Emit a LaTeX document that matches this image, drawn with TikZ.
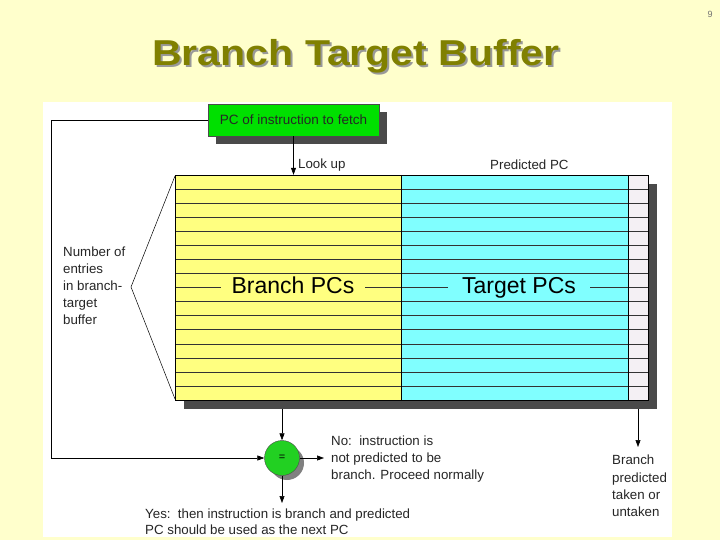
\documentclass[tikz,border=0pt]{standalone}
\usepackage{fontspec}
\setmainfont{Liberation Sans}
\usetikzlibrary{arrows.meta,shapes.geometric}
\definecolor{bgyellow}{HTML}{FFFFCC}
\definecolor{titleol}{HTML}{808000}
\definecolor{rowyel}{HTML}{FFFF80}
\definecolor{rowcyan}{HTML}{80FFFF}
\definecolor{rowwhite}{HTML}{F4F0F4}
\definecolor{boxgreen}{HTML}{00E000}
\definecolor{circgreen}{HTML}{22D022}
\definecolor{shadowgray}{HTML}{4A4A4A}
\newcommand{\ttltext}{\scalebox{1.14}[1]{Branch Target Buffer}}
\begin{document}
\begin{tikzpicture}[x=1pt,y=-1pt,
  lbl/.style={font=\fontsize{13.3}{16}\selectfont, text=black!85, inner sep=0pt},
  arr/.style={-{Triangle[width=5pt,length=7pt]}, line width=0.6pt},
  rowline/.style={line width=0.5pt, draw=black!80},
  collbl/.style={inner sep=0pt, minimum height=12pt, text height=16.5pt, text depth=4.5pt, font=\fontsize{23}{26}\selectfont}]
\useasboundingbox (0,0) rectangle (720,540);
\fill[bgyellow] (0,0) rectangle (720,540);
\node[text=black!55, font=\fontsize{9}{10}\selectfont] (pg) at (710,14) {9};
% title with shadow
\node[font=\fontsize{36}{40}\selectfont\bfseries, inner sep=0pt] (title) at (356,57)
  {\rlap{\hspace{2pt}\raisebox{-2pt}{\color{black!40}\ttltext}}\color{titleol}\ttltext};
% white panel
\fill[white] (43,102) rectangle (672,537);
% table shadow
\fill[shadowgray] (184,184) rectangle (657,409);
% table
\fill[rowyel] (175,175) rectangle (401,400);
\fill[rowcyan] (401,175) rectangle (628,400);
\fill[rowwhite] (628,175) rectangle (648,400);
\foreach \k in {1,...,15} {
  \draw[rowline] (175,{175+\k*225/16}) -- (648,{175+\k*225/16});
}
\draw[line width=0.6pt] (175,175) rectangle (648,400);
\draw[line width=0.6pt] (401,175) -- (401,400);
\draw[line width=0.6pt] (628,175) -- (628,400);
\node[inner sep=0pt, minimum width=473pt, minimum height=225pt] (tbl) at (411.5,287.5) {};
% column labels
\node[collbl, fill=rowyel, minimum width=144pt] (bpc) at (293,287.5) {Branch PCs};
\node[collbl, fill=rowcyan, minimum width=142pt] (tpc) at (519,287.5) {Target PCs};
% green box
\fill[shadowgray] (216,112) rectangle (387,144);
\node[draw=black!70, fill=boxgreen, minimum width=171pt, minimum height=32pt, inner sep=0pt, font=\fontsize{13.5}{16}\selectfont, text=black!85] (pc) at (293.5,120) {PC of instruction to fetch};
% labels
\node[lbl, anchor=west] (look) at (298,165) {Look up};
\node[lbl, anchor=west] (pred) at (490,165) {Predicted PC};
\node[lbl, anchor=north west, align=left, font=\fontsize{13.3}{16.8}\selectfont] (num) at (63,247) {Number of\\entries\\in branch-\\target\\buffer};
% brace
\coordinate (bv) at (131,287);
\draw[line width=0.5pt] (175,176) -- (133,282) -- (bv) -- (133,292) -- (175,399);
% circle
\fill[shadowgray!70] (287,463) circle (17);
\node[circle, draw=black!70, fill=circgreen, minimum size=35pt, inner sep=0pt, font=\fontsize{11}{12}\selectfont] (eq) at (282,458) {=};
% connectors
\draw[arr] (pc.south) -- (pc.south |- tbl.north);
\coordinate (lc1) at (51,120);
\coordinate (lc2) at (51,458);
\draw[arr] (pc.west) -- (lc1) -- (lc2) -- (eq.west);
\coordinate (tb) at (282,409);
\draw[arr] (tb) -- (eq.north);
\coordinate (noend) at (324,458);
\draw[arr] (eq.east) -- (noend);
\coordinate (yesend) at (282,503);
\draw[arr] (eq.south) -- (yesend);
\coordinate (bt1) at (638,409);
\coordinate (bt2) at (638,447);
\draw[arr] (bt1) -- (bt2);
% texts
\node[lbl, anchor=north west, align=left, font=\fontsize{13.3}{17}\selectfont] (no) at (331,436) {No:\ \ instruction is\\not predicted to be\\branch. Proceed normally};
\node[lbl, anchor=north west, align=left, font=\fontsize{13.3}{16}\selectfont] (yes) at (145,509) {Yes:\ \ then instruction is branch and predicted\\PC should be used as the next PC};
\node[lbl, anchor=north west, align=left, font=\fontsize{13.3}{17.3}\selectfont] (bp) at (612,455) {Branch\\predicted\\taken or\\untaken};
\end{tikzpicture}
\end{document}
